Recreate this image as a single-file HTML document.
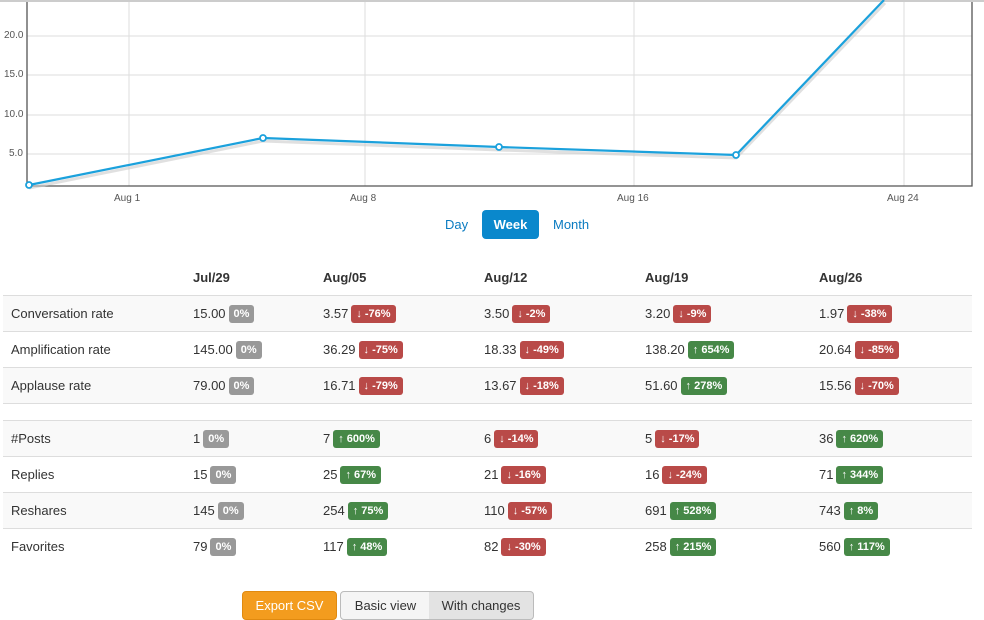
<!DOCTYPE html>
<html><head><meta charset="utf-8">
<style>
body{margin:0;width:984px;height:619px;background:#fff;font-family:"Liberation Sans",sans-serif;position:relative;overflow:hidden;color:#333}
.ax{position:absolute;font-size:10px;color:#555}
table{position:absolute;left:3px;top:260px;width:969px;border-collapse:collapse;font-size:13px;table-layout:fixed}
td,th{padding:0 0 0 8px;height:35px;border-top:1px solid #ddd;text-align:left;white-space:nowrap}
th{border-top:none;height:35px;font-weight:bold}
tr.s td{background:#f9f9f9}
tr.gap td{height:16px}
.b{display:inline-block;color:#fff;font-weight:bold;font-size:11px;padding:0 5px;height:18px;line-height:18px;border-radius:3px;margin-left:3px;vertical-align:1px}
.g{background:#999}.r{background:#b94a48}.n{background:#468847}
.btn{position:absolute;font-size:13px;text-align:center;line-height:27px;height:27px}
</style></head><body>
<div style="position:absolute;left:0;top:0;width:984px;height:2px;background:#ccc"></div>
<svg style="position:absolute;left:0;top:0" width="984" height="200">
<g stroke="#ddd" stroke-width="1">
<line x1="27" y1="36" x2="972" y2="36"/><line x1="27" y1="75" x2="972" y2="75"/>
<line x1="27" y1="115" x2="972" y2="115"/><line x1="27" y1="154" x2="972" y2="154"/>
<line x1="129" y1="2" x2="129" y2="186"/><line x1="365" y1="2" x2="365" y2="186"/>
<line x1="634" y1="2" x2="634" y2="186"/><line x1="904" y1="2" x2="904" y2="186"/>
</g>
<polyline points="27,2 27,186 972,186 972,2" fill="none" stroke="#555" stroke-width="1.3"/>
<polyline points="29,188 263,141 499,150 736,158 885,3" fill="none" stroke="#ccc" stroke-width="3" opacity="0.6"/>
<polyline points="29,185 263,138 499,147 736,155 884,0" fill="none" stroke="#1ba1dc" stroke-width="2.2"/>
<g fill="#fff" stroke="#1ba1dc" stroke-width="1.8">
<circle cx="29" cy="185" r="3"/><circle cx="263" cy="138" r="3"/><circle cx="499" cy="147" r="3"/><circle cx="736" cy="155" r="3"/>
</g>
</svg>
<div class="ax" style="left:4px;top:30px">20.0</div>
<div class="ax" style="left:4px;top:69px">15.0</div>
<div class="ax" style="left:4px;top:109px">10.0</div>
<div class="ax" style="left:9px;top:148px">5.0</div>
<div class="ax" style="left:114px;top:193px">Aug 1</div>
<div class="ax" style="left:350px;top:193px">Aug 8</div>
<div class="ax" style="left:617px;top:193px">Aug 16</div>
<div class="ax" style="left:887px;top:193px">Aug 24</div>
<div style="position:absolute;left:445px;top:217px;font-size:13px;color:#0a7bc1">Day</div>
<div style="position:absolute;left:482px;top:210px;width:57px;height:29px;background:#0a88cc;border-radius:4px;color:#fff;font-weight:bold;font-size:13px;text-align:center;line-height:29px">Week</div>
<div style="position:absolute;left:553px;top:217px;font-size:13px;color:#0a7bc1">Month</div>
<table>
<colgroup><col style="width:182px"><col style="width:130px"><col style="width:161px"><col style="width:161px"><col style="width:174px"><col style="width:161px"></colgroup>
<tr><th></th><th>Jul/29</th><th>Aug/05</th><th>Aug/12</th><th>Aug/19</th><th>Aug/26</th></tr>
<tr class="s"><td>Conversation rate</td><td>15.00<span class="b g">0%</span></td><td>3.57<span class="b r">↓ -76%</span></td><td>3.50<span class="b r">↓ -2%</span></td><td>3.20<span class="b r">↓ -9%</span></td><td>1.97<span class="b r">↓ -38%</span></td></tr>
<tr><td>Amplification rate</td><td>145.00<span class="b g">0%</span></td><td>36.29<span class="b r">↓ -75%</span></td><td>18.33<span class="b r">↓ -49%</span></td><td>138.20<span class="b n">↑ 654%</span></td><td>20.64<span class="b r">↓ -85%</span></td></tr>
<tr class="s"><td>Applause rate</td><td>79.00<span class="b g">0%</span></td><td>16.71<span class="b r">↓ -79%</span></td><td>13.67<span class="b r">↓ -18%</span></td><td>51.60<span class="b n">↑ 278%</span></td><td>15.56<span class="b r">↓ -70%</span></td></tr>
<tr class="gap"><td></td><td></td><td></td><td></td><td></td><td></td></tr>
<tr class="s"><td>#Posts</td><td>1<span class="b g">0%</span></td><td>7<span class="b n">↑ 600%</span></td><td>6<span class="b r">↓ -14%</span></td><td>5<span class="b r">↓ -17%</span></td><td>36<span class="b n">↑ 620%</span></td></tr>
<tr><td>Replies</td><td>15<span class="b g">0%</span></td><td>25<span class="b n">↑ 67%</span></td><td>21<span class="b r">↓ -16%</span></td><td>16<span class="b r">↓ -24%</span></td><td>71<span class="b n">↑ 344%</span></td></tr>
<tr class="s"><td>Reshares</td><td>145<span class="b g">0%</span></td><td>254<span class="b n">↑ 75%</span></td><td>110<span class="b r">↓ -57%</span></td><td>691<span class="b n">↑ 528%</span></td><td>743<span class="b n">↑ 8%</span></td></tr>
<tr><td>Favorites</td><td>79<span class="b g">0%</span></td><td>117<span class="b n">↑ 48%</span></td><td>82<span class="b r">↓ -30%</span></td><td>258<span class="b n">↑ 215%</span></td><td>560<span class="b n">↑ 117%</span></td></tr>
</table>
<div class="btn" style="left:242px;top:591px;width:93px;background:#f39c1e;border:1px solid #e08a10;border-radius:4px;color:#fff">Export CSV</div>
<div class="btn" style="left:340px;top:591px;width:89px;background:#f5f5f5;border:1px solid #bbb;border-radius:4px 0 0 4px">Basic view</div>
<div class="btn" style="left:429px;top:591px;width:104px;background:#e3e3e3;border:1px solid #bbb;border-left:none;border-radius:0 4px 4px 0">With changes</div>
</body></html>
